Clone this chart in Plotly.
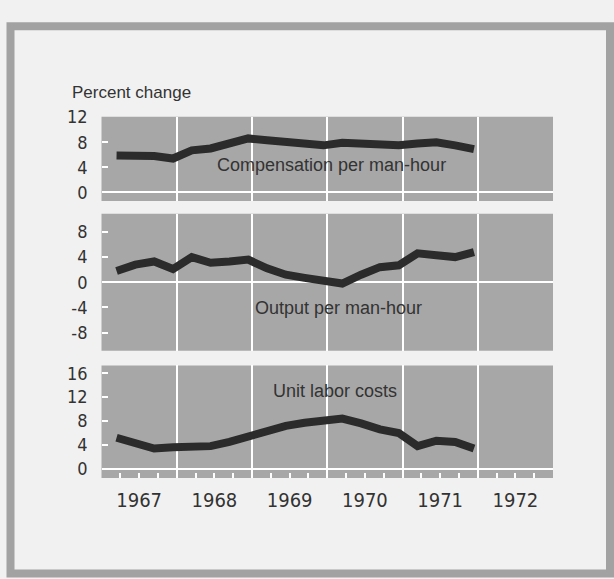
import plotly.graph_objects as go

# ---- data (quarterly, percent change) ----
years = [1967, 1968, 1969, 1970, 1971, 1972]
year_labels = ["1967", "1968", "1969", "1970", "1971", "1972"]
quarters = [(y, q) for y in range(1967, 1972) for q in range(1, 5)]

compensation = [5.9, 5.9, 5.8, 5.4, 6.7, 7.0, 7.7, 8.6, 8.3, 8.0,
                7.8, 7.5, 7.9, 7.8, 7.9, 7.5, 7.8, 8.0, 7.5, 6.9]
output = [1.8, 2.8, 3.3, 2.1, 4.0, 3.1, 3.3, 3.6, 2.2, 1.2,
          0.7, 0.3, -0.2, 1.2, 2.4, 2.7, 4.6, 4.3, 4.0, 4.8]
unit_labor = [5.2, 4.2, 3.4, 3.6, 3.8, 3.8, 4.5, 5.5, 6.3, 7.2,
              7.7, 8.0, 8.4, 7.6, 6.6, 6.0, 3.8, 4.7, 4.5, 3.4]

panel_titles = ["Compensation per man-hour", "Output per man-hour", "Unit labor costs"]
comp_ticks = [0, 4, 8, 12]
comp_labels = ["0", "4", "8", "12"]
output_ticks = [-8, -4, 0, 4, 8]
output_labels = ["-8", "-4", "0", "4", "8"]
ulc_ticks = [0, 4, 8, 12, 16]
ulc_labels = ["0", "4", "8", "12", "16"]

# decimal-year position of each quarterly observation
xq = [y + (q - 1) * 0.25 + 0.2 for (y, q) in quarters]

W, H = 614, 579
PANEL = "#a7a7a7"
INK = "#2b2b2b"
TXT = "#333333"
PAPER = "#f1f1f1"
NARROW = "Liberation Sans Narrow, Arial Narrow, DejaVu Sans Condensed, sans-serif"
SANS = "Liberation Sans, Arial, sans-serif"

def py(px):
    return 1 - px / H

fig = go.Figure()
series = [compensation, output, unit_labor]
for i, s in enumerate(series):
    fig.add_trace(go.Scatter(
        x=xq, y=s, mode="lines",
        line=dict(color=INK, width=8),
        xaxis="x" if i == 0 else f"x{i+1}",
        yaxis="y" if i == 0 else f"y{i+1}",
        showlegend=False, hoverinfo="skip"))

xdom = [101.5 / W, 553 / W]
year_grid = years[1:]
quarter_vals = [y + f for y in years for f in (0.25, 0.5, 0.75)]
quarter_text = [lab if f == 0.5 else "" for y, lab in zip(years, year_labels) for f in (0.25, 0.5, 0.75)]

common_x = dict(domain=xdom, range=[1967, 1973], showline=False, zeroline=False,
                showgrid=False,
                minor=dict(tickvals=year_grid, showgrid=True, gridcolor="white",
                           gridwidth=2, ticklen=0))

fig.update_layout(
    xaxis=dict(common_x, anchor="y", showticklabels=False, ticks=""),
    xaxis2=dict(common_x, anchor="y2", showticklabels=False, ticks=""),
    xaxis3=dict(common_x, anchor="y3", tickvals=quarter_vals, ticktext=quarter_text,
                ticks="inside", ticklen=5, tickwidth=2, tickcolor="white",
                ticklabelstandoff=8,
                tickfont=dict(family=NARROW, size=20, color=TXT)),
)

ycommon = dict(showgrid=False, zeroline=True, zerolinecolor="white", zerolinewidth=2,
               ticks="inside", ticklen=6, tickwidth=2, tickcolor="white",
               showline=False, ticklabelstandoff=13,
               tickfont=dict(family=NARROW, size=18, color=TXT))

fig.update_layout(
    yaxis=dict(ycommon, domain=[py(195), py(109)], range=[-1.35, 12.05],
               tickvals=comp_ticks, ticktext=comp_labels, anchor="x"),
    yaxis2=dict(ycommon, domain=[py(348), py(208)], range=[-10.9, 10.9],
                tickvals=output_ticks, ticktext=output_labels, anchor="x2"),
    yaxis3=dict(ycommon, domain=[py(478), py(363)], range=[-1.55, 17.3],
                tickvals=ulc_ticks, ticktext=ulc_labels, anchor="x3"),
)

# panel backgrounds
for i, (y0, y1) in enumerate([(109, 195), (208, 348), (363, 478)]):
    fig.add_shape(type="rect", xref="paper", yref="paper",
                  x0=xdom[0], x1=xdom[1], y0=py(y1), y1=py(y0),
                  fillcolor=PANEL, line=dict(width=0), layer="below")

# frame around the whole exhibit
fig.add_shape(type="rect", xref="paper", yref="paper",
              x0=10.5 / W, x1=610 / W, y0=py(575.5), y1=py(16.5),
              line=dict(color="#a2a2a2", width=8), fillcolor="rgba(0,0,0,0)",
              layer="below")

ann_font = dict(family=SANS, size=18, color=TXT)
fig.add_annotation(text=panel_titles[0], x=1970.05, y=4.3, xref="x", yref="y",
                   showarrow=False, font=ann_font)
fig.add_annotation(text=panel_titles[1], x=1970.15, y=-4.1, xref="x2", yref="y2",
                   showarrow=False, font=ann_font)
fig.add_annotation(text=panel_titles[2], x=1970.1, y=13.0, xref="x3", yref="y3",
                   showarrow=False, font=ann_font)
fig.add_annotation(text="Percent change", x=70 / W, y=py(84), xref="paper", yref="paper",
                   xanchor="left", yanchor="middle", showarrow=False,
                   font=dict(family=SANS, size=17, color=TXT))

fig.update_layout(width=W, height=H, margin=dict(l=0, r=0, t=0, b=0),
                  paper_bgcolor=PAPER, plot_bgcolor="rgba(0,0,0,0)")

fig.write_html("out.html", config={"displayModeBar": False},
               post_script="document.body.style.margin='0px';document.body.style.padding='0px';document.body.style.overflow='hidden';")
